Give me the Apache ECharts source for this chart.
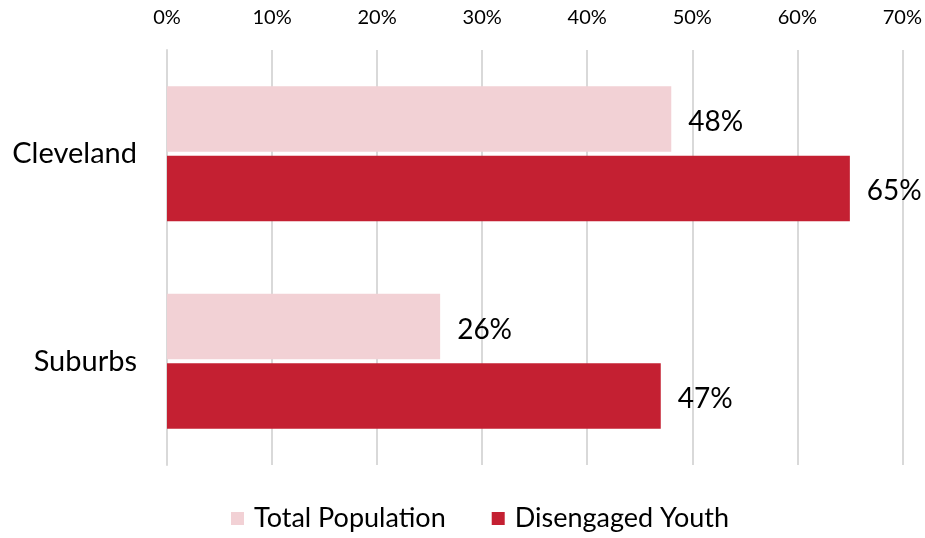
<!DOCTYPE html>
<html>
<head>
<meta charset="utf-8">
<script src="https://cdn.jsdelivr.net/npm/echarts@6/dist/echarts.min.js"></script>
<style>
  html, body { margin: 0; padding: 0; background: #ffffff; }
  #chart { width: 925px; height: 538px; }
</style>
</head>
<body>
<div id="chart"></div>
<script>
// Share of residents by area, in percent
const categories = ['Cleveland', 'Suburbs'];
const seriesNames = ['Total Population', 'Disengaged Youth'];
const totalPopulation = [48, 26];
const disengagedYouth = [65, 47];
const xTicks = [0, 10, 20, 30, 40, 50, 60, 70];

const FONT = 'Lato, "Open Sans", sans-serif';
const PINK = '#F2D1D5';
const RED = '#C42032';

const chart = echarts.init(document.getElementById('chart'), null, { renderer: 'canvas' });

const labelStyle = {
  show: true,
  position: 'right',
  distance: 17,
  offset: [0, 3],
  formatter: p => p.value + '%',
  color: '#000000',
  fontFamily: FONT,
  fontSize: 28
};

chart.setOption({
  animation: false,
  backgroundColor: '#ffffff',
  textStyle: { fontFamily: FONT },
  grid: { left: 167, right: 22, top: 50, bottom: 73, containLabel: false },
  xAxis: {
    type: 'value',
    position: 'top',
    min: xTicks[0],
    max: xTicks[xTicks.length - 1],
    interval: 10,
    axisLine: { show: false },
    axisTick: { show: false },
    axisLabel: {
      margin: 22,
      formatter: v => v + '%',
      color: '#000000',
      fontFamily: FONT,
      fontSize: 20
    },
    splitLine: { show: true, lineStyle: { color: '#D9D9D9', width: 2 } }
  },
  yAxis: {
    type: 'category',
    data: categories,
    inverse: true,
    axisLine: { show: true, lineStyle: { color: '#D9D9D9', width: 2 } },
    axisTick: { show: false },
    axisLabel: {
      margin: 30,
      color: '#000000',
      fontFamily: FONT,
      fontSize: 29
    }
  },
  legend: {
    bottom: 1,
    left: 226,
    itemWidth: 13,
    itemHeight: 13,
    itemGap: 46,
    icon: 'rect',
    textStyle: { color: '#000000', fontFamily: FONT, fontSize: 27, padding: [0, 0, 0, 5] },
    data: seriesNames
  },
  series: [
    {
      name: seriesNames[0],
      type: 'bar',
      data: totalPopulation,
      itemStyle: { color: PINK },
      barGap: '6%',
      barCategoryGap: '35%',
      label: labelStyle
    },
    {
      name: seriesNames[1],
      type: 'bar',
      data: disengagedYouth,
      itemStyle: { color: RED },
      barGap: '6%',
      barCategoryGap: '35%',
      label: labelStyle
    }
  ]
});
</script>
</body>
</html>
